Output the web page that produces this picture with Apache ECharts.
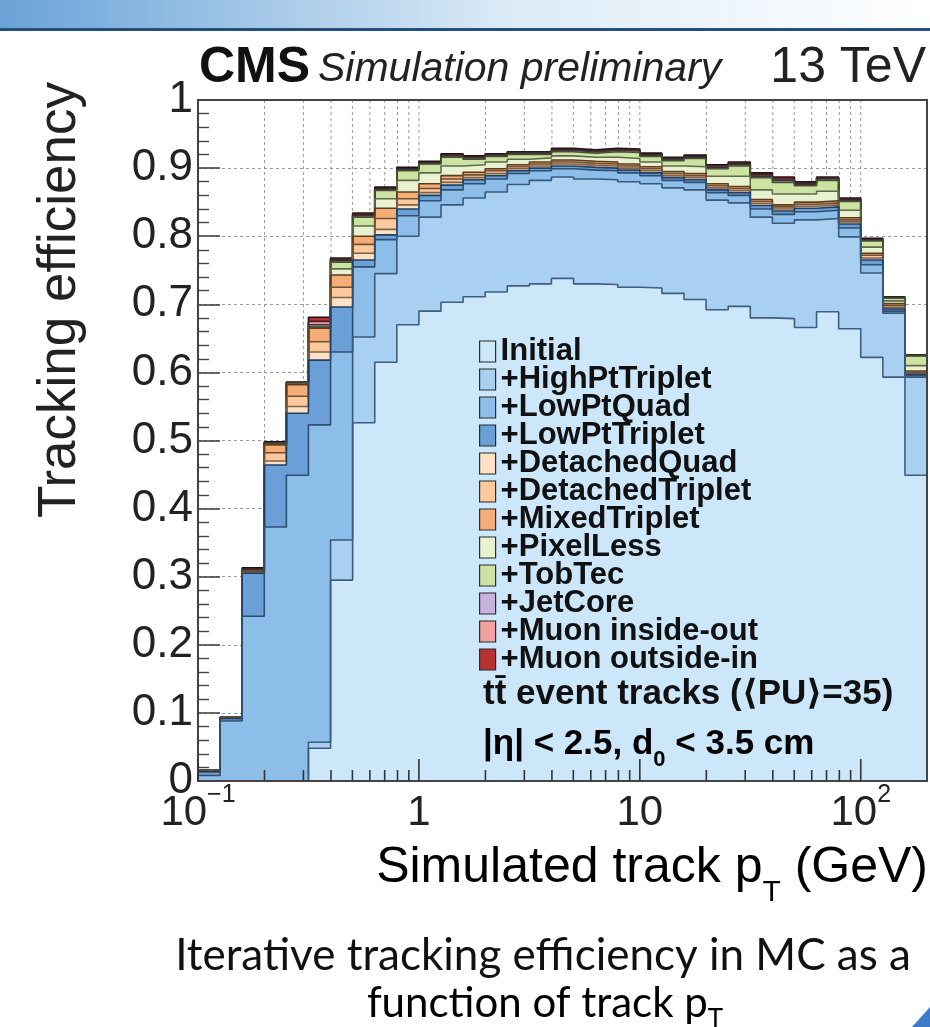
<!DOCTYPE html>
<html>
<head>
<meta charset="utf-8">
<title>Iterative tracking efficiency</title>
<script src="https://cdn.jsdelivr.net/npm/echarts@6.0.0/dist/echarts.min.js"></script>
<style>
  html, body { margin: 0; padding: 0; background: #fff; }
  #chart { width: 930px; height: 1027px; }
</style>
</head>
<body>
<div id="chart"></div>
<script>
// bin edges in GeV, 0.1 decade wide
var binEdges = [0.1, 0.1259, 0.1585, 0.1995, 0.2512, 0.3162, 0.3981, 0.5012, 0.631, 0.7943,
    1, 1.259, 1.585, 1.995, 2.512, 3.162, 3.981, 5.012, 6.31, 7.943,
    10, 12.59, 15.85, 19.95, 25.12, 31.62, 39.81, 50.12, 63.1, 79.43,
    100, 125.9, 158.5, 199.5];
var xMajorTicks = [0.1, 1, 10, 100];
var xMinorTicks = [0.2, 0.3, 0.4, 0.5, 0.6, 0.7, 0.8, 0.9, 2, 3, 4, 5, 6, 7, 8, 9,
    20, 30, 40, 50, 60, 70, 80, 90];

// cumulative efficiency after each iteration, one value per bin
var initial = [0, 0, 0, 0, 0, 0.048, 0.295, 0.526, 0.615, 0.670, 0.690, 0.703, 0.711, 0.718, 0.727, 0.730, 0.738, 0.730, 0.729, 0.725, 0.724, 0.716, 0.707, 0.692, 0.697, 0.680, 0.679, 0.666, 0.689, 0.664, 0.622, 0.593, 0.449];
var highPtTriplet = [0, 0, 0, 0, 0, 0.057, 0.354, 0.652, 0.745, 0.800, 0.828, 0.846, 0.856, 0.865, 0.876, 0.882, 0.887, 0.884, 0.883, 0.880, 0.877, 0.871, 0.868, 0.853, 0.849, 0.828, 0.819, 0.824, 0.826, 0.799, 0.746, 0.687, 0.593];
var lowPtQuad = [0.008, 0.088, 0.242, 0.373, 0.449, 0.523, 0.630, 0.755, 0.795, 0.830, 0.852, 0.868, 0.877, 0.884, 0.892, 0.896, 0.899, 0.897, 0.896, 0.893, 0.889, 0.882, 0.879, 0.864, 0.860, 0.840, 0.832, 0.836, 0.838, 0.812, 0.758, 0.690, 0.595];
var lowPtTriplet = [0.014, 0.092, 0.305, 0.464, 0.540, 0.618, 0.696, 0.765, 0.802, 0.840, 0.860, 0.875, 0.883, 0.889, 0.896, 0.900, 0.903, 0.901, 0.900, 0.897, 0.893, 0.886, 0.883, 0.868, 0.864, 0.845, 0.837, 0.841, 0.843, 0.818, 0.765, 0.693, 0.597];
var detachedQuad = [0.014, 0.092, 0.306, 0.470, 0.550, 0.630, 0.710, 0.775, 0.810, 0.846, 0.864, 0.879, 0.886, 0.892, 0.899, 0.903, 0.906, 0.904, 0.903, 0.900, 0.896, 0.889, 0.886, 0.871, 0.867, 0.848, 0.840, 0.844, 0.846, 0.821, 0.768, 0.695, 0.598];
var detachedTriplet = [0.014, 0.093, 0.307, 0.482, 0.565, 0.645, 0.725, 0.788, 0.826, 0.855, 0.870, 0.884, 0.890, 0.896, 0.902, 0.906, 0.909, 0.907, 0.906, 0.903, 0.899, 0.892, 0.889, 0.874, 0.870, 0.851, 0.843, 0.847, 0.849, 0.824, 0.772, 0.698, 0.600];
var mixedTriplet = [0.014, 0.093, 0.308, 0.494, 0.582, 0.665, 0.743, 0.800, 0.841, 0.865, 0.877, 0.889, 0.894, 0.899, 0.905, 0.909, 0.912, 0.910, 0.909, 0.906, 0.902, 0.895, 0.892, 0.877, 0.873, 0.854, 0.846, 0.850, 0.852, 0.827, 0.775, 0.701, 0.602];
var pixelLess = [0.014, 0.093, 0.308, 0.494, 0.583, 0.666, 0.752, 0.815, 0.855, 0.882, 0.893, 0.903, 0.905, 0.909, 0.913, 0.915, 0.918, 0.916, 0.916, 0.914, 0.909, 0.903, 0.902, 0.888, 0.888, 0.868, 0.862, 0.862, 0.866, 0.838, 0.784, 0.705, 0.610];
var tobTec = [0.014, 0.093, 0.309, 0.495, 0.584, 0.667, 0.762, 0.828, 0.867, 0.896, 0.906, 0.916, 0.913, 0.917, 0.920, 0.920, 0.924, 0.922, 0.924, 0.923, 0.917, 0.911, 0.914, 0.899, 0.903, 0.886, 0.879, 0.874, 0.882, 0.851, 0.793, 0.709, 0.624];
var jetCore = [0.015, 0.093, 0.310, 0.496, 0.585, 0.670, 0.764, 0.830, 0.869, 0.898, 0.907, 0.918, 0.915, 0.919, 0.922, 0.922, 0.926, 0.924, 0.926, 0.925, 0.919, 0.913, 0.916, 0.901, 0.905, 0.888, 0.882, 0.876, 0.884, 0.852, 0.794, 0.710, 0.625];
var muonInsideOut = [0.015, 0.093, 0.311, 0.497, 0.585, 0.675, 0.766, 0.832, 0.870, 0.899, 0.908, 0.919, 0.916, 0.920, 0.923, 0.923, 0.927, 0.925, 0.927, 0.926, 0.920, 0.914, 0.917, 0.903, 0.907, 0.890, 0.884, 0.878, 0.885, 0.854, 0.795, 0.710, 0.625];
var muonOutsideIn = [0.016, 0.094, 0.313, 0.498, 0.586, 0.681, 0.768, 0.834, 0.872, 0.901, 0.910, 0.921, 0.918, 0.921, 0.924, 0.924, 0.929, 0.927, 0.929, 0.928, 0.922, 0.916, 0.919, 0.905, 0.909, 0.893, 0.887, 0.880, 0.887, 0.856, 0.797, 0.711, 0.626];

var layers = [
    {name: 'Initial', values: initial, fill: '#cde7fa', line: '#3d5e7e'},
    {name: '+HighPtTriplet', values: highPtTriplet, fill: '#a9d0f1', line: '#3a5a7c'},
    {name: '+LowPtQuad', values: lowPtQuad, fill: '#8dbde9', line: '#2f4f70'},
    {name: '+LowPtTriplet', values: lowPtTriplet, fill: '#6a9fd8', line: '#23405f'},
    {name: '+DetachedQuad', values: detachedQuad, fill: '#fde2c6', line: '#7d6047'},
    {name: '+DetachedTriplet', values: detachedTriplet, fill: '#fbc99b', line: '#6e5035'},
    {name: '+MixedTriplet', values: mixedTriplet, fill: '#f5ad76', line: '#5e3c20'},
    {name: '+PixelLess', values: pixelLess, fill: '#e8f2d0', line: '#5f6b48'},
    {name: '+TobTec', values: tobTec, fill: '#cde3a3', line: '#45522c'},
    {name: '+JetCore', values: jetCore, fill: '#c9b3dc', line: '#3a3040'},
    {name: '+Muon inside-out', values: muonInsideOut, fill: '#f2a0a0', line: '#3e2424'},
    {name: '+Muon outside-in', values: muonOutsideIn, fill: '#b83232', line: '#241010'}
];

var FONT = '"Liberation Sans", "DejaVu Sans", sans-serif';
var CAPTION_FONT = 'Lato, "Open Sans", sans-serif';

function stepPoints(values) {
    var pts = [];
    for (var i = 0; i < values.length; i++) {
        pts.push([binEdges[i], values[i]]);
    }
    pts.push([binEdges[values.length], values[values.length - 1]]);
    return pts;
}

var series = [];

// vertical dashed grid at the log ticks, under the histograms
series.push({
    type: 'custom',
    z: 1,
    silent: true,
    data: xMinorTicks.concat([1, 10, 100]).map(function (v) { return [v, 0]; }),
    renderItem: function (params, api) {
        var b = api.coord([api.value(0), 0]);
        var t = api.coord([api.value(0), 1]);
        return {type: 'line', shape: {x1: b[0], y1: b[1], x2: t[0], y2: t[1]},
            style: {stroke: '#9a9a9a', lineWidth: 1, lineDash: [3, 3]}};
    }
});

// largest first so that Initial ends on top
for (var k = layers.length - 1; k >= 0; k--) {
    var l = layers[k];
    series.push({
        name: l.name,
        type: 'line',
        step: 'end',
        symbol: 'none',
        silent: true,
        color: l.fill,
        data: stepPoints(l.values),
        lineStyle: {color: l.line, width: 1.6},
        areaStyle: {color: l.fill, opacity: 1},
        emphasis: {disabled: true}
    });
}

// log ticks along the bottom, drawn over the fills
series.push({
    type: 'custom',
    z: 10,
    silent: true,
    data: xMajorTicks.concat(xMinorTicks).map(function (v) { return [v, 0]; }),
    renderItem: function (params, api) {
        var v = api.value(0);
        var len = xMajorTicks.indexOf(v) >= 0 ? 22 : 11;
        var p = api.coord([v, 0]);
        return {type: 'line', shape: {x1: p[0], y1: p[1], x2: p[0], y2: p[1] - len},
            style: {stroke: '#333', lineWidth: 1.6}};
    }
});

var chart = echarts.init(document.getElementById('chart'));

var option = {
    animation: false,
    backgroundColor: '#ffffff',
    grid: {
        left: 198, top: 100, width: 729, height: 681,
        show: true, z: 10, backgroundColor: 'transparent',
        borderColor: '#444', borderWidth: 2
    },
    xAxis: {
        type: 'log',
        logBase: 10,
        min: binEdges[0],
        max: binEdges[binEdges.length - 1],
        axisLine: {show: false},
        axisTick: {show: false},
        splitLine: {show: false},
        axisLabel: {
            margin: 2,
            formatter: function (v) {
                if (Math.abs(v - 0.1) < 1e-9) return '{b|10}{s|\u22121}';
                if (Math.abs(v - 1) < 1e-9) return '{b|1}';
                if (Math.abs(v - 10) < 1e-9) return '{b|10}';
                if (Math.abs(v - 100) < 1e-9) return '{b|10}{s|2}';
                return '';
            },
            rich: {
                b: {fontSize: 42, fontFamily: FONT, color: '#222', lineHeight: 60},
                s: {fontSize: 25, fontFamily: FONT, color: '#222', lineHeight: 30, verticalAlign: 'top'}
            }
        }
    },
    yAxis: {
        type: 'value',
        min: 0,
        max: 1,
        interval: 0.1,
        axisLine: {show: true, lineStyle: {color: '#444', width: 2}},
        axisTick: {show: true, inside: true, length: 22, lineStyle: {color: '#444', width: 1.6}},
        minorTick: {show: true, splitNumber: 5, length: 11, lineStyle: {color: '#444', width: 1.4}},
        splitLine: {show: true, lineStyle: {color: '#9a9a9a', type: [3, 3], width: 1}},
        axisLabel: {
            margin: 5,
            fontSize: 44,
            fontFamily: FONT,
            color: '#222',
            formatter: function (v) {
                if (v === 0) return '0';
                if (Math.abs(v - 1) < 1e-9) return '1';
                return v.toFixed(1);
            }
        }
    },
    legend: {
        left: 474,
        top: 331,
        orient: 'vertical',
        itemGap: -3,
        itemWidth: 16,
        itemHeight: 21,
        icon: 'rect',
        selectedMode: false,
        textStyle: {fontSize: 31, fontWeight: 'bold', fontFamily: FONT, color: '#111'},
        data: layers.map(function (l) {
            return {name: l.name, itemStyle: {color: l.fill, borderColor: '#2b2b2b', borderWidth: 1.2}};
        })
    },
    graphic: [
        {type: 'rect', shape: {x: 0, y: 0, width: 930, height: 28},
            style: {fill: new echarts.graphic.LinearGradient(0, 0, 1, 0, [
                {offset: 0, color: '#6aa3d8'}, {offset: 0.55, color: '#dcebf7'}, {offset: 1, color: '#ffffff'}])}},
        {type: 'rect', shape: {x: 0, y: 28, width: 930, height: 3}, style: {fill: '#24507f'}},
        {type: 'text', x: 199, y: 68, style: {text: 'CMS', font: 'bold 50px ' + FONT, fill: '#111',
            textVerticalAlign: 'middle', verticalAlign: 'middle'}},
        {type: 'text', x: 318, y: 70, style: {text: 'Simulation preliminary', font: 'italic 41px ' + FONT, fill: '#222',
            textVerticalAlign: 'middle', verticalAlign: 'middle'}},
        {type: 'text', x: 926, y: 68, style: {text: '13 TeV', font: '50px ' + FONT, fill: '#222',
            textAlign: 'right', textVerticalAlign: 'middle', verticalAlign: 'middle'}},
        {type: 'text', x: 60, y: 300, rotation: Math.PI / 2, style: {text: 'Tracking efficiency', font: '53px ' + FONT,
            fill: '#222', textAlign: 'center', textVerticalAlign: 'middle', verticalAlign: 'middle'}},
        {type: 'text', x: 928, y: 868, style: {
            text: '{a|Simulated track p}{s|T}{a| (GeV)}',
            textAlign: 'right', textVerticalAlign: 'middle', verticalAlign: 'middle',
            rich: {
                a: {fontSize: 50, fontFamily: FONT, color: '#222', lineHeight: 80},
                s: {fontSize: 30, fontFamily: FONT, color: '#222', lineHeight: 30, verticalAlign: 'bottom'}
            }}},
        {type: 'text', x: 483, y: 694, z: 50, style: {text: 'tt\u0304 event tracks (\u27E8PU\u27E9=35)',
            font: 'bold 35px ' + FONT, fill: '#111', textVerticalAlign: 'middle', verticalAlign: 'middle'}},
        {type: 'text', x: 483, y: 744, z: 50, style: {
            text: '{a|\u007C\u03B7\u007C < 2.5, d}{s|0}{a| < 3.5 cm}',
            textVerticalAlign: 'middle', verticalAlign: 'middle',
            rich: {
                a: {fontSize: 35, fontWeight: 'bold', fontFamily: FONT, color: '#111', lineHeight: 54},
                s: {fontSize: 22, fontWeight: 'bold', fontFamily: FONT, color: '#111', lineHeight: 22, verticalAlign: 'bottom'}
            }}},
        {type: 'text', x: 543, y: 956, style: {text: 'Iterative tracking efficiency in MC as a',
            font: '44px ' + CAPTION_FONT, fill: '#111',
            textAlign: 'center', textVerticalAlign: 'middle', verticalAlign: 'middle'}},
        {type: 'text', x: 545, y: 1003, style: {
            text: '{a|function of track p}{s|T}',
            textAlign: 'center', textVerticalAlign: 'middle', verticalAlign: 'middle',
            rich: {
                a: {fontSize: 42, fontFamily: CAPTION_FONT, color: '#111', lineHeight: 60},
                s: {fontSize: 26, fontFamily: CAPTION_FONT, color: '#111', lineHeight: 26, verticalAlign: 'bottom'}
            }}},
        {type: 'polygon', shape: {points: [[912, 1027], [930, 1007], [930, 1027]]}, style: {fill: '#3d7cc9'}}
    ],
    series: series
};

chart.setOption(option);
</script>
</body>
</html>
